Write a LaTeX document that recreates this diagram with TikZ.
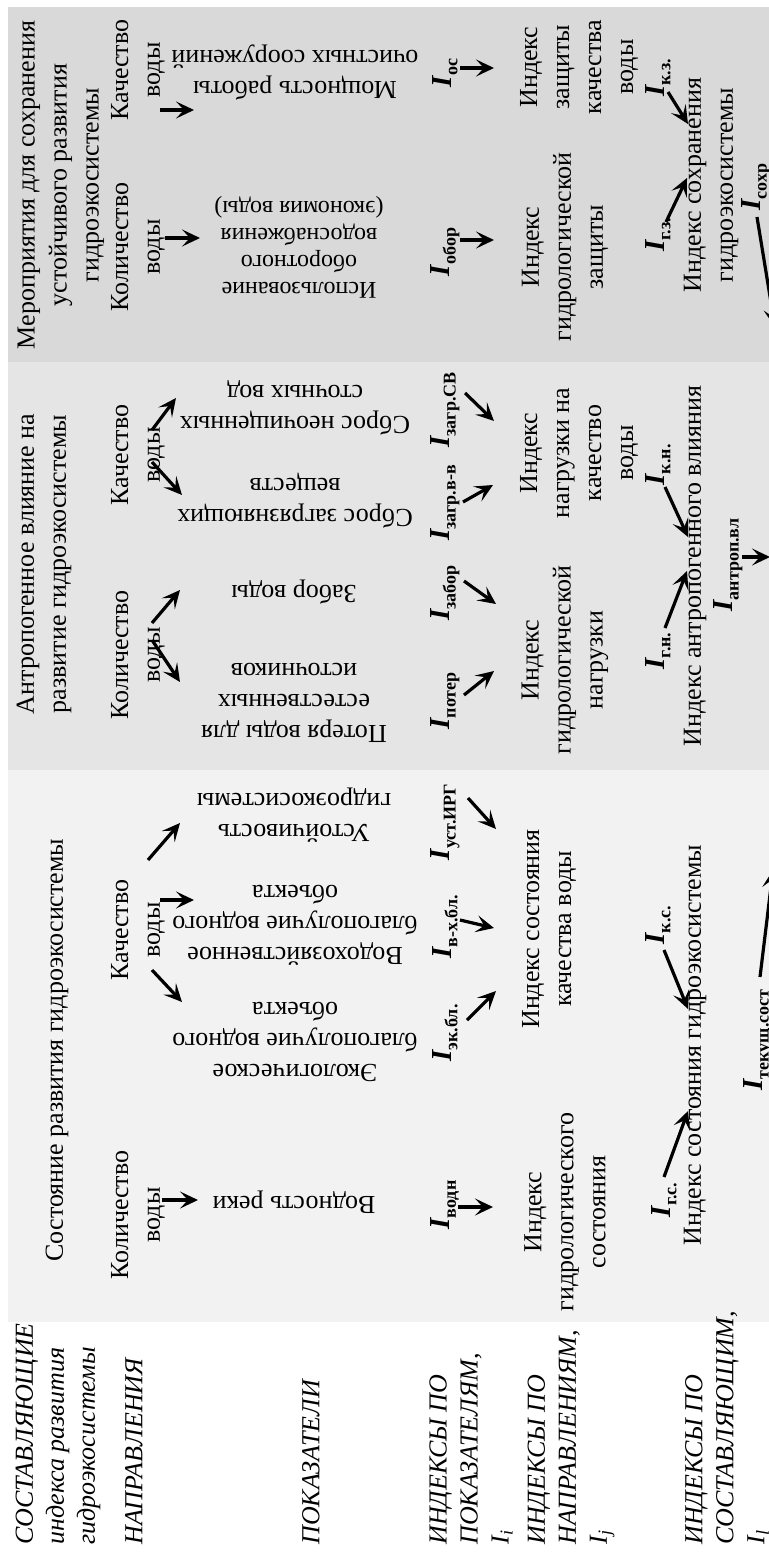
\documentclass[tikz,border=0pt]{standalone}
\usepackage{fontspec}
\setmainfont{Liberation Serif}
\usetikzlibrary{arrows.meta}
\definecolor{shadeone}{gray}{0.95}
\definecolor{shadetwo}{gray}{0.90}
\definecolor{shadethree}{gray}{0.85}
\newcommand{\Isym}[1]{{\fontsize{14.5}{14}\selectfont\bfseries\itshape I}\raisebox{-3pt}{\fontsize{9}{9}\selectfont\bfseries #1}}

\begin{document}
\begin{tikzpicture}[x=0.5pt,y=-0.5pt, txt/.style={rotate=90,align=center,inner sep=0pt,font=\fontsize{13}{16}\selectfont}, ind/.style={rotate=180,align=center,inner sep=0pt,font=\fontsize{13}{15.5}\selectfont}, sym/.style={rotate=90,inner sep=0pt}, lab/.style={rotate=90,align=left,anchor=west,inner sep=0pt,font=\fontsize{13}{15.5}\selectfont\itshape}, arr/.style={line width=1.6pt,-{Stealth[length=9pt,width=8.5pt,inset=4pt]}}]
  \clip (0,0) rectangle (769,1563);
  \fill[shadethree] (8,7) rectangle (769,362);
  \fill[shadetwo] (8,362) rectangle (769,770);
  \fill[shadeone] (8,770) rectangle (769,1322);

  \node (t3) [txt] at (61,185) {Мероприятия для сохранения\\устойчивого развития\\гидроэкосистемы};
  \node (t2) [txt] at (44,564) {Антропогенное влияние на\\развитие гидроэкосистемы};
  \node (t1) [txt] at (57,1050) {Состояние развития гидроэкосистемы};

  \node (d3q) [txt] at (138,70) {Качество\\воды};
  \node (d3k) [txt] at (138,247) {Количество\\воды};
  \node (d2q) [txt] at (138,455) {Качество\\воды};
  \node (d2k) [txt] at (138,655) {Количество\\воды};
  \node (d1q) [txt] at (138,930) {Качество\\воды};
  \node (d1k) [txt] at (138,1215) {Количество\\воды};

  \node (p3a) [ind] at (295,72) {Мощность работы\\очистных сооружений};
  \node (p3b) [ind,font=\fontsize{12}{13.5}\selectfont] at (299,247) {Использование\\оборотного\\водоснабжения\\(экономия воды)};
  \node (p2a) [ind] at (295,408) {Сброс неочищенных\\сточных вод};
  \node (p2b) [ind] at (295,501) {Сброс загрязняющих\\веществ};
  \node (p2c) [ind] at (294,592) {Забор воды};
  \node (p2d) [ind] at (294,703) {Потеря воды для\\естественных\\источников};
  \node (p1a) [ind] at (294,815) {Устойчивость\\гидроэкосистемы};
  \node (p1b) [ind] at (295,925) {Водохозяйственное\\благополучие водного\\объекта};
  \node (p1c) [ind] at (295,1042) {Экологическое\\благополучие водного\\объекта};
  \node (p1d) [ind] at (294,1202) {Водность реки};

  \node (s3a) [sym] at (445,73) {\Isym{ос}};
  \node (s3b) [sym] at (445,252) {\Isym{обор}};
  \node (s2a) [sym] at (445,410) {\Isym{загр.СВ}};
  \node (s2b) [sym] at (445,503) {\Isym{загр.в-в}};
  \node (s2c) [sym] at (445,593) {\Isym{забор}};
  \node (s2d) [sym] at (445,701) {\Isym{потер}};
  \node (s1a) [sym] at (445,822) {\Isym{уст.ИРГ}};
  \node (s1b) [sym] at (445,927) {\Isym{в-х.бл.}};
  \node (s1c) [sym] at (445,1033) {\Isym{эк.бл.}};
  \node (s1d) [sym] at (445,1205) {\Isym{водн}};

  \node (x3a) [txt] at (579,67) {Индекс\\защиты\\качества\\воды};
  \node (x3b) [txt] at (565,247) {Индекс\\гидрологической\\защиты};
  \node (x2a) [txt] at (579,453) {Индекс\\нагрузки на\\качество\\воды};
  \node (x2b) [txt] at (565,660) {Индекс\\гидрологической\\нагрузки};
  \node (x1a) [txt] at (549,929) {Индекс состояния\\качества воды};
  \node (x1b) [txt] at (565,1212) {Индекс\\гидрологического\\состояния};

  \node (c3a) [sym] at (658,78) {\Isym{к.з.}};
  \node (c3b) [sym] at (658,235) {\Isym{г.з.}};
  \node (x3) [txt] at (711,185) {Индекс сохранения\\гидроэкосистемы};
  \node (c2a) [sym] at (658,465) {\Isym{к.н.}};
  \node (c2b) [sym] at (658,651) {\Isym{г.н.}};
  \node (x2) [txt] at (695,566) {Индекс антропогенного влияния};
  \node (c1a) [sym] at (658,925) {\Isym{к.с.}};
  \node (c1b) [sym] at (664,1200) {\Isym{г.с.}};
  \node (x1) [txt] at (695,1045) {Индекс состояния гидроэкосистемы};

  \node (f3) [sym] at (756,187) {\Isym{сохр}};
  \node (f2) [sym] at (728,565) {\Isym{антроп.вл}};
  \node (f1) [sym] at (758,1040) {\Isym{текущ.сост}};

  \node (l1) [lab] at (58,1545) {СОСТАВЛЯЮЩИЕ\\индекса развития\\гидроэкосистемы};
  \node (l2) [lab] at (134,1545) {НАПРАВЛЕНИЯ};
  \node (l3) [lab] at (311,1545) {ПОКАЗАТЕЛИ};
  \node (l4) [lab] at (471,1545) {ИНДЕКСЫ ПО\\ПОКАЗАТЕЛЯМ,\\\textit{I}\textsubscript{\textit{i}}};
  \node (l5) [lab] at (571,1545) {ИНДЕКСЫ ПО\\НАПРАВЛЕНИЯМ,\\\textit{I}\textsubscript{\textit{j}}};
  \node (l6) [lab] at (727,1545) {ИНДЕКСЫ ПО\\СОСТАВЛЯЮЩИМ,\\\textit{I}\textsubscript{\textit{l}}};

  \coordinate (d3q out) at (160,110);  \coordinate (p3a in) at (194,110);
  \coordinate (d3k out) at (165,238);  \coordinate (p3b in) at (200,238);
  \coordinate (d2q up) at (152,430);   \coordinate (p2a in) at (176,398);
  \coordinate (d2q down) at (152,462); \coordinate (p2b in) at (182,495);
  \coordinate (d2k up) at (152,623);   \coordinate (p2c in) at (180,590);
  \coordinate (d2k down) at (152,640); \coordinate (p2d in) at (180,682);
  \coordinate (d1q up) at (148,860);   \coordinate (p1a in) at (180,823);
  \coordinate (d1q out) at (160,900);  \coordinate (p1b in) at (194,900);
  \coordinate (d1q down) at (152,970); \coordinate (p1c in) at (182,1002);
  \coordinate (d1k out) at (162,1200); \coordinate (p1d in) at (198,1200);
  \draw[arr] (d3q out) -- (p3a in);
  \draw[arr] (d3k out) -- (p3b in);
  \draw[arr] (d2q up) -- (p2a in);
  \draw[arr] (d2q down) -- (p2b in);
  \draw[arr] (d2k up) -- (p2c in);
  \draw[arr] (d2k down) -- (p2d in);
  \draw[arr] (d1q up) -- (p1a in);
  \draw[arr] (d1q out) -- (p1b in);
  \draw[arr] (d1q down) -- (p1c in);
  \draw[arr] (d1k out) -- (p1d in);

  \coordinate (s3a out) at (460,68);   \coordinate (x3a in) at (494,68);
  \coordinate (s3b out) at (460,240);  \coordinate (x3b in) at (494,240);
  \coordinate (s2a out) at (465,393);  \coordinate (x2a in up) at (494,421);
  \coordinate (s2b out) at (463,502);  \coordinate (x2a in down) at (493,485);
  \coordinate (s2c out) at (464,581);  \coordinate (x2b in up) at (496,604);
  \coordinate (s2d out) at (464,695);  \coordinate (x2b in down) at (494,671);
  \coordinate (s1a out) at (468,798);  \coordinate (x1a in up) at (496,829);
  \coordinate (s1b out) at (460,920);  \coordinate (x1a in) at (494,928);
  \coordinate (s1c out) at (467,1020); \coordinate (x1a in down) at (496,991);
  \coordinate (s1d out) at (458,1207); \coordinate (x1b in) at (493,1207);
  \draw[arr] (s3a out) -- (x3a in);
  \draw[arr] (s3b out) -- (x3b in);
  \draw[arr] (s2a out) -- (x2a in up);
  \draw[arr] (s2b out) -- (x2a in down);
  \draw[arr] (s2c out) -- (x2b in up);
  \draw[arr] (s2d out) -- (x2b in down);
  \draw[arr] (s1a out) -- (x1a in up);
  \draw[arr] (s1b out) -- (x1a in);
  \draw[arr] (s1c out) -- (x1a in down);
  \draw[arr] (s1d out) -- (x1b in);

  \coordinate (c3a out) at (668,92);   \coordinate (x3 in up) at (688,124);
  \coordinate (c3b out) at (666,222);  \coordinate (x3 in down) at (687,178);
  \coordinate (c2a out) at (665,487);  \coordinate (x2 in up) at (688,537);
  \coordinate (c2b out) at (665,628);  \coordinate (x2 in down) at (687,571);
  \coordinate (c1a out) at (664,950);  \coordinate (x1 in up) at (688,1009);
  \coordinate (c1b out) at (664,1177); \coordinate (x1 in down) at (688,1111);
  \draw[arr] (c3a out) -- (x3 in up);
  \draw[arr] (c3b out) -- (x3 in down);
  \draw[arr] (c2a out) -- (x2 in up);
  \draw[arr] (c2b out) -- (x2 in down);
  \draw[arr] (c1a out) -- (x1 in up);
  \draw[arr] (c1b out) -- (x1 in down);

  \coordinate (f3 out) at (757,217);   \coordinate (total in right) at (775,327);
  \coordinate (f2 out) at (742,557);   \coordinate (total in mid) at (770,557);
  \coordinate (f1 out) at (760,977);   \coordinate (total in left) at (773,870);
  \draw[arr] (f3 out) -- (total in right);
  \draw[arr] (f2 out) -- (total in mid);
  \draw[arr] (f1 out) -- (total in left);
\end{tikzpicture}
\end{document}
